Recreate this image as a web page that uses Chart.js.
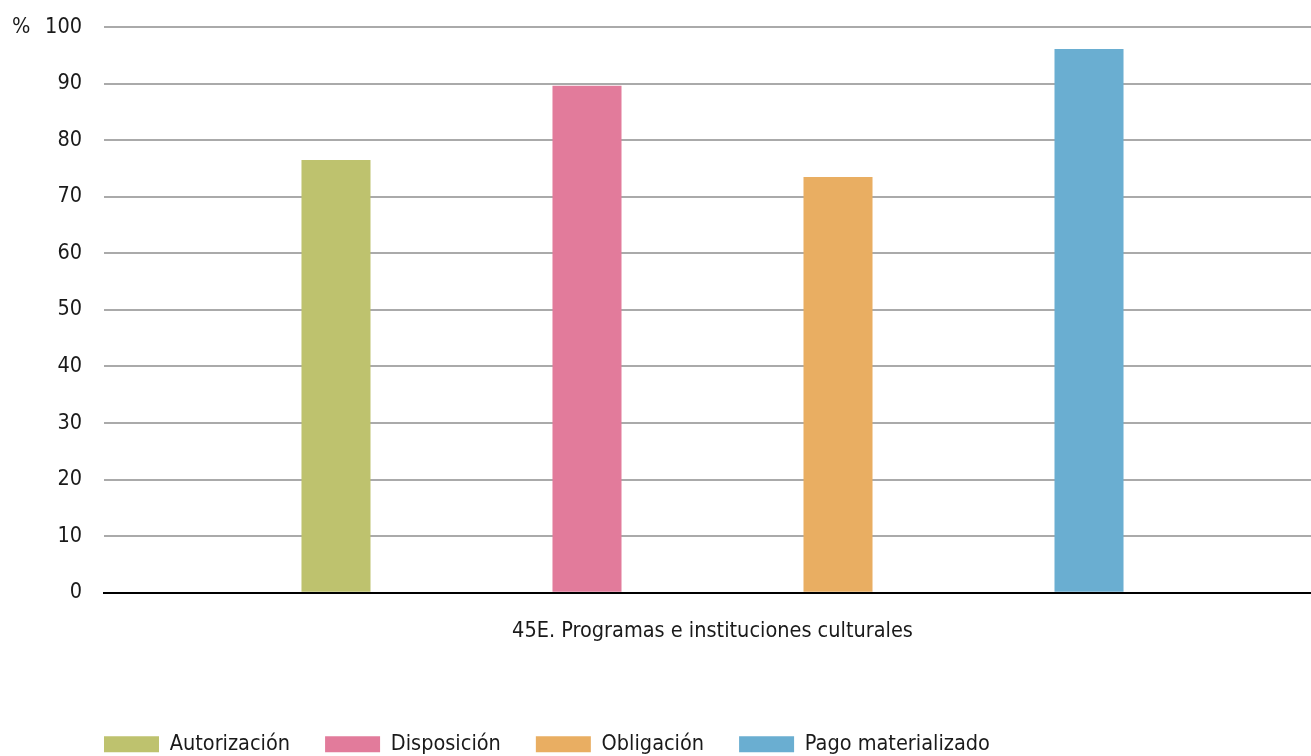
<!DOCTYPE html>
<html>
<head>
<meta charset="utf-8">
<script src="https://cdn.jsdelivr.net/npm/chart.js@4"></script>
<style>
  html, body { margin: 0; padding: 0; background: #fff; overflow: hidden; }
  #wrap { width: 1321px; height: 756px; }
</style>
</head>
<body>
<div id="wrap"><canvas id="chart-1"></canvas></div>
<script>
const categories = ['45E. Programas e instituciones culturales'];
const seriesNames = ['Autorización', 'Disposición', 'Obligación', 'Pago materializado'];
const autorizacion = [76.5];
const disposicion = [89.6];
const obligacion = [73.5];
const pagoMaterializado = [96.1];
const colors = ['#bec26e', '#e27b9b', '#e9ae62', '#6aaed1'];

const fontFamily = "'Liberation Sans Narrow', 'DejaVu Sans', sans-serif";
const fontWeight = 'normal condensed';
const fontSize = 21.5;
const legendPad = 35;

// draws the "%" unit next to the top tick
const unitLabel = {
  id: 'unitLabel',
  afterDraw(chart) {
    const y = chart.scales.y;
    const c = chart.ctx;
    c.save();
    c.font = fontWeight + ' ' + fontSize + 'px ' + fontFamily;
    c.fillStyle = '#1a1a1a';
    c.textAlign = 'left';
    c.textBaseline = 'middle';
    c.fillText('%', 12, y.getPixelForValue(100));
    c.restore();
  }
};

// push legend to start under the plot area, and a bit lower
const legendShift = {
  id: 'legendShift',
  afterLayout(chart) {
    const lg = chart.legend;
    const dx = chart.chartArea.left - legendPad;
    lg.left += dx;
    lg.right += dx;
    lg.top += 9;
    lg.bottom += 9;
  }
};

const ctx1 = document.getElementById("chart-1").getContext("2d");

const myChart = new Chart(ctx1, {
  type: 'bar',
  data: {
    labels: categories,
    datasets: [
      { label: seriesNames[0], data: autorizacion, backgroundColor: colors[0] },
      { label: seriesNames[1], data: disposicion, backgroundColor: colors[1] },
      { label: seriesNames[2], data: obligacion, backgroundColor: colors[2] },
      { label: seriesNames[3], data: pagoMaterializado, backgroundColor: colors[3] }
    ]
  },
  options: {
    responsive: true,
    maintainAspectRatio: false,
    animation: false,
    categoryPercentage: 0.825,
    barPercentage: 0.275,
    layout: { padding: { top: 27, left: 0, right: 0, bottom: 0 } },
    plugins: {
      legend: {
        position: 'bottom',
        align: 'start',
        labels: {
          boxWidth: 55,
          boxHeight: 16,
          padding: legendPad,
          color: '#1a1a1a',
          font: { family: fontFamily, size: fontSize, weight: fontWeight }
        }
      },
      tooltip: { enabled: false }
    },
    scales: {
      x: {
        grid: { display: false },
        border: { display: true, color: '#000', width: 2 },
        afterFit(scale) { scale.height += 27; },
        ticks: { color: '#1a1a1a', padding: 18, font: { family: fontFamily, size: fontSize, weight: fontWeight } }
      },
      y: {
        min: 0,
        max: 100,
        afterFit(scale) { scale.width = 104; scale.paddingTop = 0; },
        ticks: {
          stepSize: 10,
          padding: 22,
          color: '#1a1a1a',
          font: { family: fontFamily, size: fontSize, weight: fontWeight }
        },
        grid: { color: '#aaaaaa', lineWidth: 2, drawTicks: false },
        border: { display: false }
      }
    }
  },
  plugins: [unitLabel, legendShift]
});
</script>
</body>
</html>
